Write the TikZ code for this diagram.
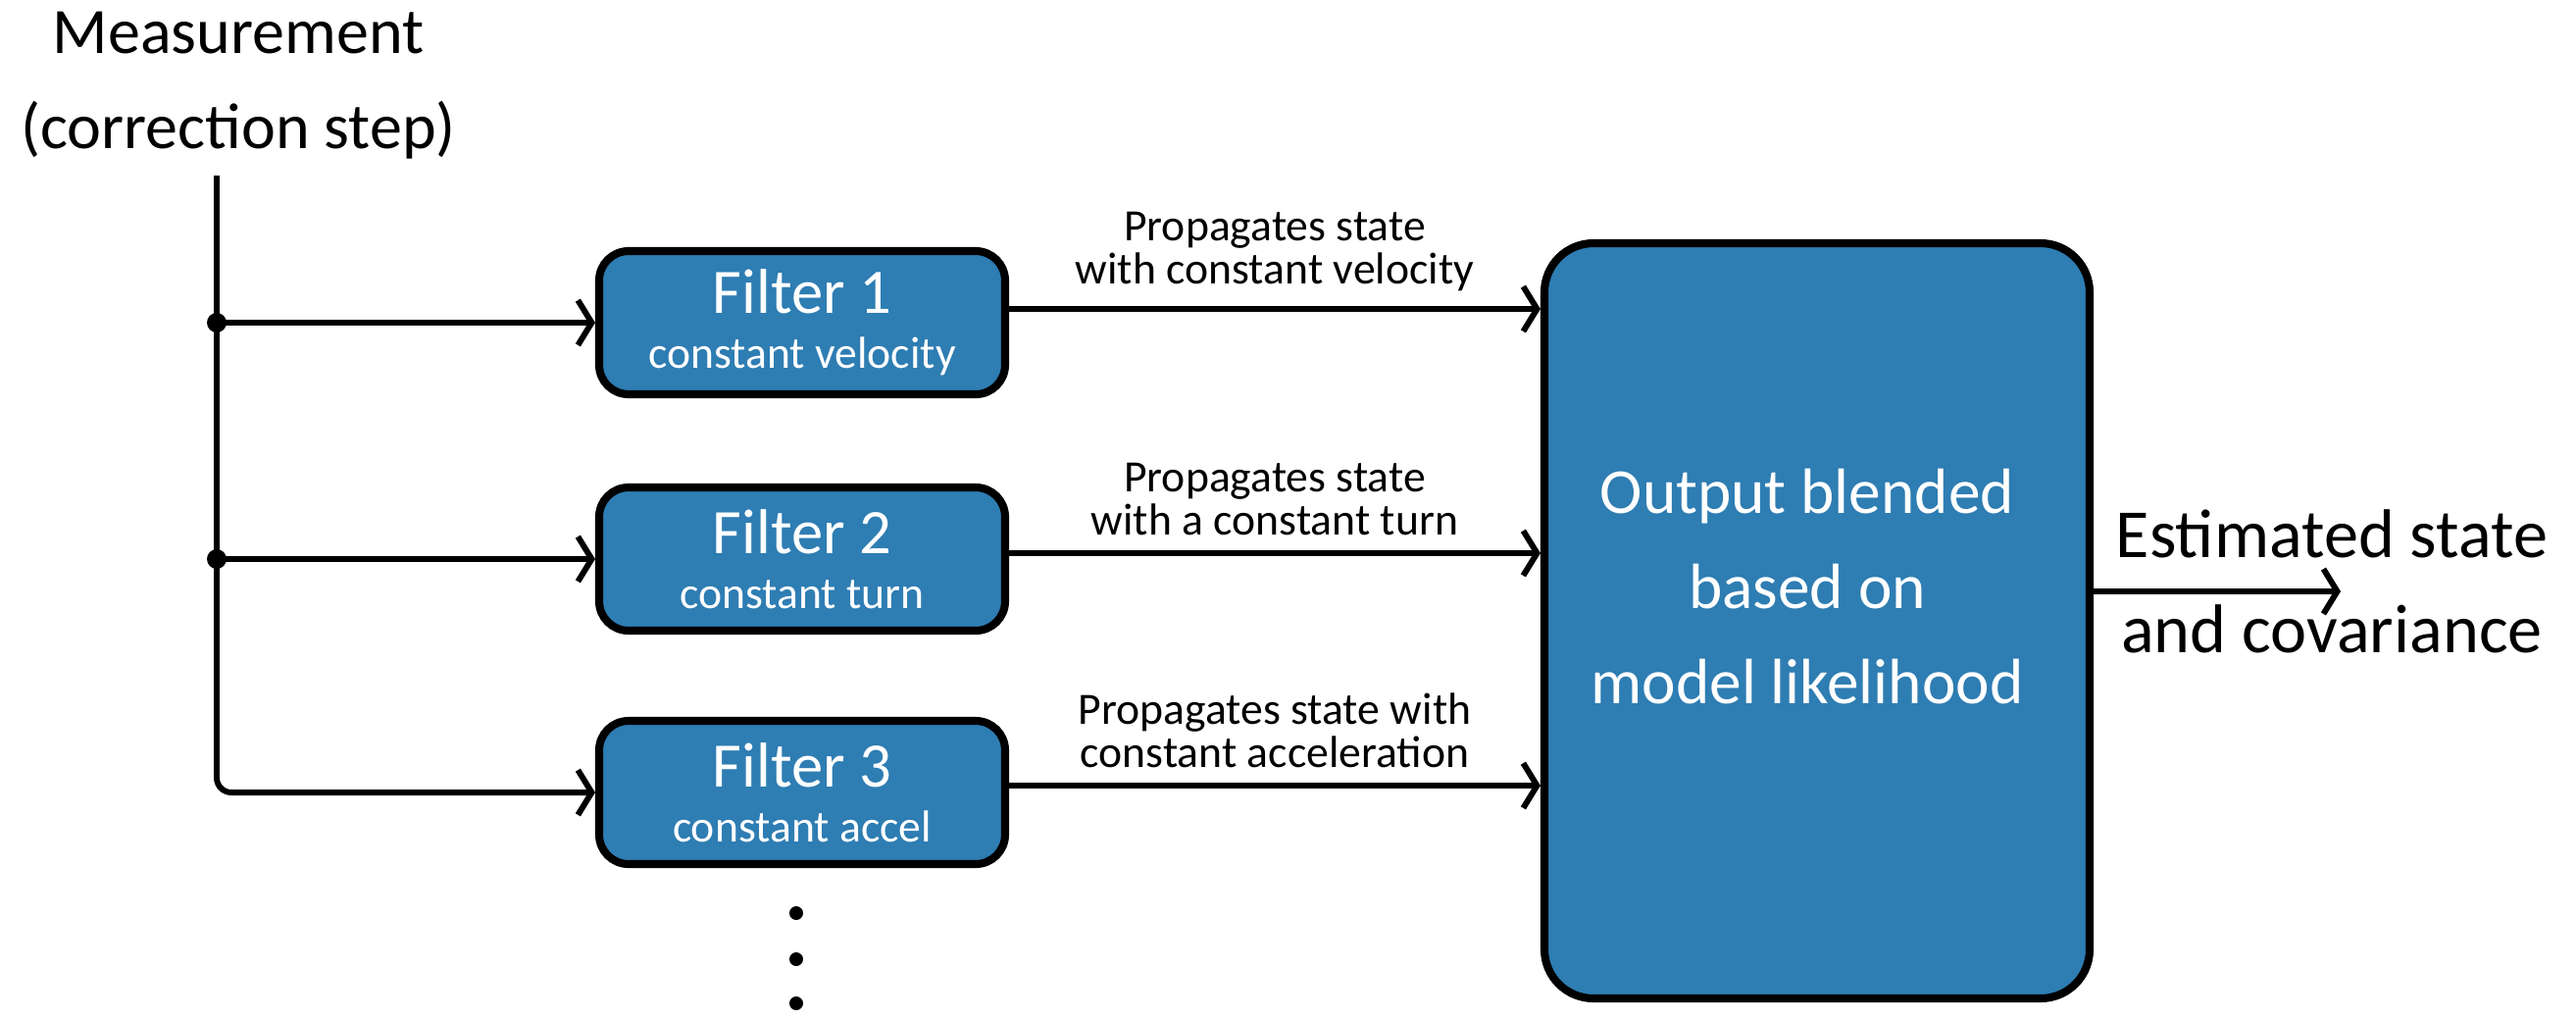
\documentclass[tikz,border=0pt]{standalone}
\usepackage{fontspec}
\setmainfont{Carlito}
\usepackage{tikz}
\usetikzlibrary{positioning, arrows.meta, calc}
\definecolor{Sketch-blue}{RGB}{46,125,179}

\begin{document}
\begin{tikzpicture}
      \tikzset{ filt/.style ={draw=black, line width=2.3pt, rounded corners=0.3cm, fill=Sketch-blue, text=white, minimum width=4.14cm, minimum height=1.46cm, align=center} }
      \tikzset{ blend/.style={draw=black, line width=2.3pt, rounded corners=0.5cm, fill=Sketch-blue, minimum width=5.56cm, minimum height=7.70cm} }
      \tikzset{ wire/.style ={line width=1.7pt, -{Straight Barb[length=4pt,width=13pt]}} }
      \tikzset{ note/.style ={text=black, align=center, font=\fontsize{13}{12.5}\selectfont} }
      \tikzset{ big/.style  ={align=center, font=\fontsize{18.8}{27.5}\selectfont} }

      \path[use as bounding box] (0,0) rectangle (26.27,-10.38);

      \node[big] (meas) at (2.43,-0.87) {Measurement\\(correction step)};

      \node[filt] (f1) at (8.18,-3.29) {{\fontsize{18.4}{20}\selectfont Filter 1}\\[4pt]{\fontsize{13}{14}\selectfont constant velocity}};
      \node[filt] (f2) at (8.18,-5.70) {{\fontsize{18.4}{20}\selectfont Filter 2}\\[4pt]{\fontsize{13}{14}\selectfont constant turn}};
      \node[filt] (f3) at (8.18,-8.08) {{\fontsize{18.4}{20}\selectfont Filter 3}\\[4pt]{\fontsize{13}{14}\selectfont constant accel}};

      \node[blend] (mix) at (18.53,-6.33) {};
      \node[big, text=white, font=\fontsize{18.6}{27.5}\selectfont] (mixtxt) at (18.43,-5.98) {Output blended\\based on\\model likelihood};

      % measurement feed
      \coordinate (top) at (2.21,-1.79);
      \coordinate (j1) at (top |- f1.west);
      \coordinate (j2) at (top |- f2.west);
      \draw[wire, rounded corners=0.15cm] (top) |- (f3.west);
      \draw[wire] (j1) -- (f1.west);
      \draw[wire] (j2) -- (f2.west);
      \fill (j1) circle (0.1);
      \fill (j2) circle (0.1);

      % propagated states
      \draw[wire] ([yshift=1.4mm]f1.east) -- ([yshift=1.4mm]f1.east -| mix.west) node[midway, above=1pt, note] {Propagates state\\with constant velocity};
      \draw[wire] ([yshift=0.6mm]f2.east) -- ([yshift=0.6mm]f2.east -| mix.west) node[midway, above=1pt, note] {Propagates state\\with a constant turn};
      \draw[wire] ([yshift=0.7mm]f3.east) -- ([yshift=0.7mm]f3.east -| mix.west) node[midway, above=1pt, note] {Propagates state with\\constant acceleration};

      \foreach \y in {9.31, 9.78, 10.23}
        \fill (8.12,-\y) circle (0.07);

      % output
      \coordinate (est) at (23.87,-6.03);
      \draw[wire] (est -| mix.east) -- (est);
      \node[big, font=\fontsize{20}{27.5}\selectfont] (estlbl) at (23.78,-5.93) {Estimated state\\and covariance};
\end{tikzpicture}
\end{document}
